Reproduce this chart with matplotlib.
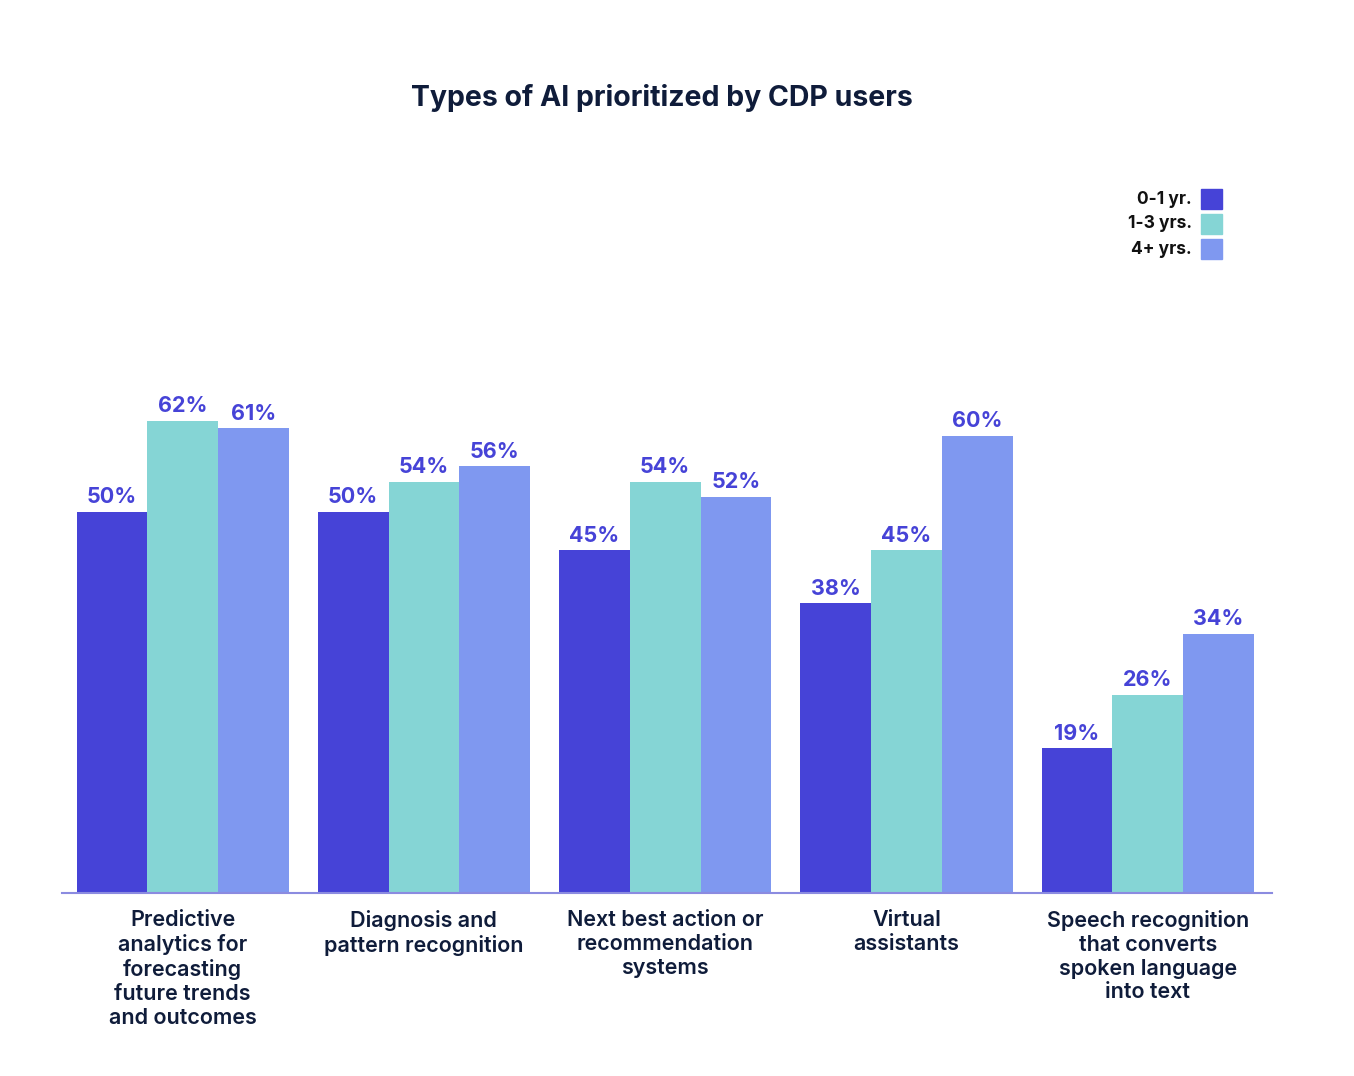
import matplotlib
matplotlib.use("Agg")
import matplotlib.pyplot as plt
import numpy as np
from matplotlib.patches import Rectangle

plt.rcParams['font.family'] = ['Inter', 'DejaVu Sans']

categories = ['Predictive\nanalytics for\nforecasting\nfuture trends\nand outcomes',
              'Diagnosis and\npattern recognition',
              'Next best action or\nrecommendation\nsystems',
              'Virtual\nassistants',
              'Speech recognition\nthat converts\nspoken language\ninto text']
series_names = ['0-1 yr.', '1-3 yrs.', '4+ yrs.']
yr01 = [50, 50, 45, 38, 19]
yr13 = [62, 54, 54, 45, 26]
yr4p = [61, 56, 52, 60, 34]
colors = ['#4643D7', '#85D5D5', '#7F98F0']

W, H = 1354, 1076
fig = plt.figure(figsize=(W / 100, H / 100), dpi=100)
ax = fig.add_axes([62 / W, (H - 893) / H, (1272 - 62) / W, (893 - 131) / H])

x = np.arange(len(categories))
bw = 0.293
for i, (vals, c) in enumerate(zip([yr01, yr13, yr4p], colors)):
    pos = x + (i - 1) * bw
    ax.bar(pos, vals, width=bw, color=c, zorder=2)
    for p, v in zip(pos, vals):
        ax.text(p, v + 0.6, f'{v}%', ha='center', va='bottom',
                fontsize=15.5, fontweight='bold', color='#4643D7')

ax.set_xlim(-0.5, 4.515)
ax.set_ylim(0, 100)
for s in ['top', 'right', 'left']:
    ax.spines[s].set_visible(False)
ax.spines['bottom'].set_color('#8B8BE0')
ax.spines['bottom'].set_linewidth(1.5)
ax.set_yticks([])
ax.set_xticks(x)
ax.set_xticklabels(categories, fontsize=15.5, fontweight='semibold',
                   color='#0F1C3A', linespacing=1.23, va='top')
ax.tick_params(axis='x', length=0, pad=12.5)

fig.text(662 / W, 1 - 98 / H, 'Types of AI prioritized by CDP users',
         ha='center', va='center', fontsize=20.5, fontweight='bold',
         color='#0F1C3A')

# legend
rows_y = [199, 224, 249]
for name, c, yy in zip(series_names, colors, rows_y):
    fig.patches.append(Rectangle((1201 / W, 1 - (yy + 10) / H), 21 / W, 20 / H,
                                 transform=fig.transFigure, color=c))
    fig.text(1192 / W, 1 - yy / H, name, ha='right', va='center',
             fontsize=12.5, fontweight='bold', color='#111111')

fig.savefig('out.png', dpi=100)
